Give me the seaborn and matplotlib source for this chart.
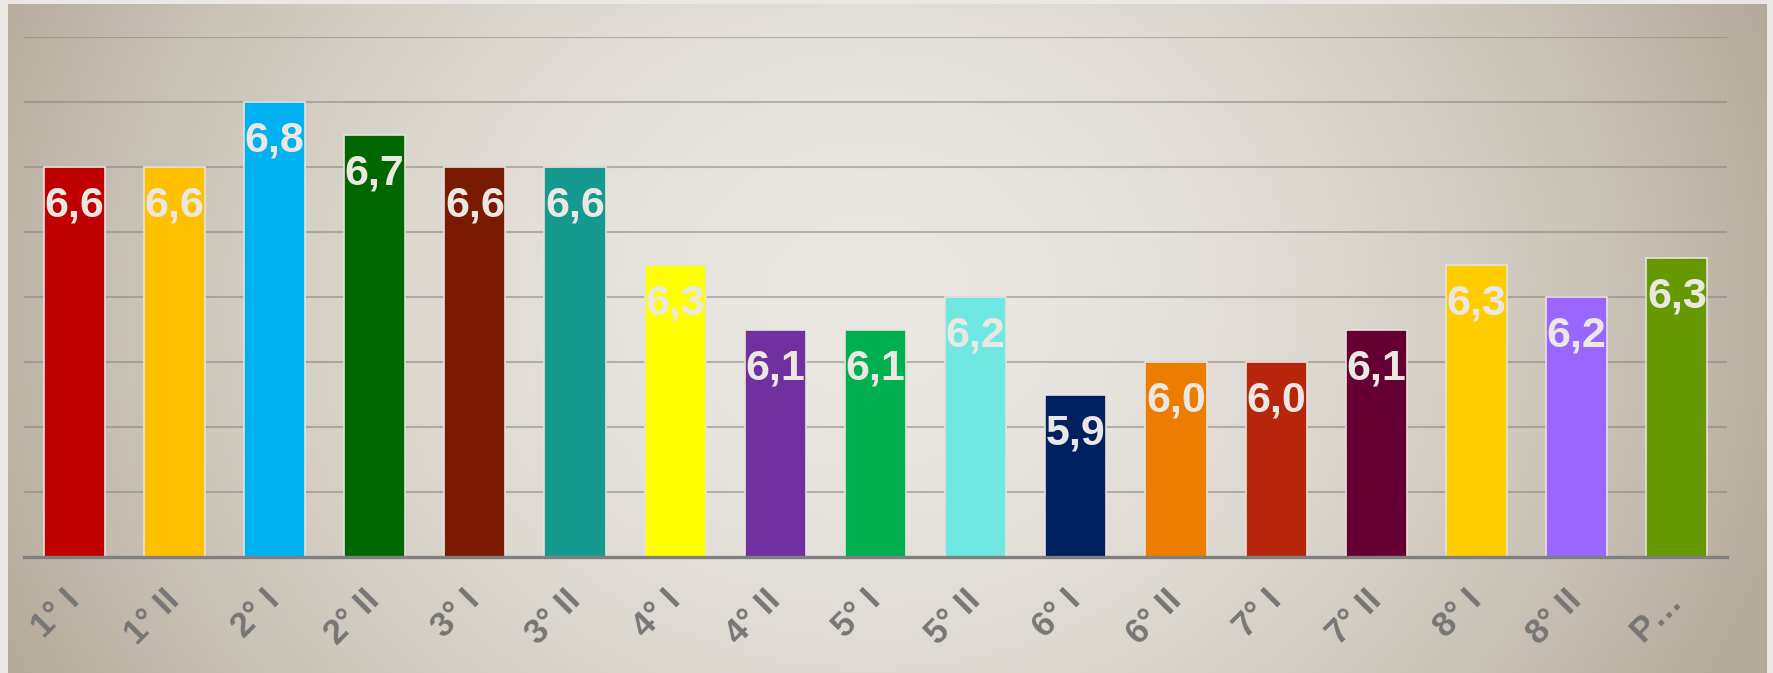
import matplotlib
matplotlib.use("Agg")
import matplotlib.pyplot as plt
import numpy as np
import pandas as pd
import seaborn as sns

categories = ["1° I", "1° II", "2° I", "2° II", "3° I", "3° II", "4° I", "4° II",
              "5° I", "5° II", "6° I", "6° II", "7° I", "7° II", "8° I", "8° II", "P…"]
values = [6.6, 6.6, 6.8, 6.7, 6.6, 6.6, 6.3, 6.1, 6.1, 6.2, 5.9, 6.0, 6.0, 6.1, 6.3, 6.2, 6.32]
labels = ["6,6", "6,6", "6,8", "6,7", "6,6", "6,6", "6,3", "6,1", "6,1", "6,2",
          "5,9", "6,0", "6,0", "6,1", "6,3", "6,2", "6,3"]
colors = ["#C00000", "#FFC000", "#00B0F0", "#006600", "#7B1A02", "#16998F", "#FFFF00",
          "#7030A0", "#00B050", "#6EE8E0", "#002060", "#ED7D00", "#B7260B", "#660033",
          "#FFCC00", "#9966FF", "#669900"]

df = pd.DataFrame({"group": categories, "score": values})

sns.set_style("white")
plt.rcParams["font.family"] = ["Liberation Sans", "DejaVu Sans"]

W, H = 1774, 673
fig = plt.figure(figsize=(W / 100, H / 100), dpi=100)
fig.patch.set_facecolor("#eae8e4")

# background panel with radial gradient
bg = fig.add_axes([8 / W, 0, 1759 / W, 669 / H])
bg.set_axis_off()
xx, yy = np.meshgrid(np.arange(1759), np.arange(669))
d = np.sqrt(((xx - 860) / 960.0) ** 2 + ((yy - 300) / 820.0) ** 2)
t = np.clip(d, 0, 1) ** 1.8
c_in = np.array([0xeb, 0xe8, 0xe3]) / 255.0
c_out = np.array([0xb4, 0xaa, 0x9a]) / 255.0
img = c_in[None, None, :] * (1 - t[..., None]) + c_out[None, None, :] * t[..., None]
bg.imshow(img, aspect="auto", interpolation="bilinear")

ax = fig.add_axes([24 / W, 1 - 557 / H, (1727 - 24) / W, (557 - 37) / H])
ax.set_facecolor("none")

sns.barplot(data=df, x="group", y="score", hue="group", palette=colors, saturation=1,
            legend=False, width=0.61, edgecolor="#e6e2dc", linewidth=1.2, ax=ax, zorder=3)

ax.set_ylim(5.4, 7.0)
ax.set_xlim(-0.5, len(categories) - 0.5)
ax.set_yticks(np.arange(5.6, 7.01, 0.2))
ax.yaxis.grid(True, color="#8a8580", alpha=0.55, linewidth=1.5, zorder=0)
ax.set_axisbelow(True)
ax.tick_params(axis="y", left=False, labelleft=False)
ax.tick_params(axis="x", bottom=False, pad=24)
ax.set_xlabel("")
ax.set_ylabel("")
for s in ["top", "right", "left"]:
    ax.spines[s].set_visible(False)
ax.spines["bottom"].set_color("#7f7f7f")
ax.spines["bottom"].set_linewidth(2.4)
ax.spines["bottom"].set_zorder(4)

for lab in ax.get_xticklabels():
    lab.set_rotation(45)
    lab.set_ha("right")
    lab.set_va("center")
    lab.set_rotation_mode("anchor")
    lab.set_fontsize(25)
    lab.set_fontweight("bold")
    lab.set_color("#767676")

for patch, txt in zip(ax.patches, labels):
    x = patch.get_x() + patch.get_width() / 2
    y = patch.get_height()
    ax.annotate(txt, (x, y), xytext=(0, -28), textcoords="offset points",
                ha="center", va="center", fontsize=31, fontweight="bold",
                color="#ebe8e3", zorder=5)

fig.savefig("out.png", dpi=100)
